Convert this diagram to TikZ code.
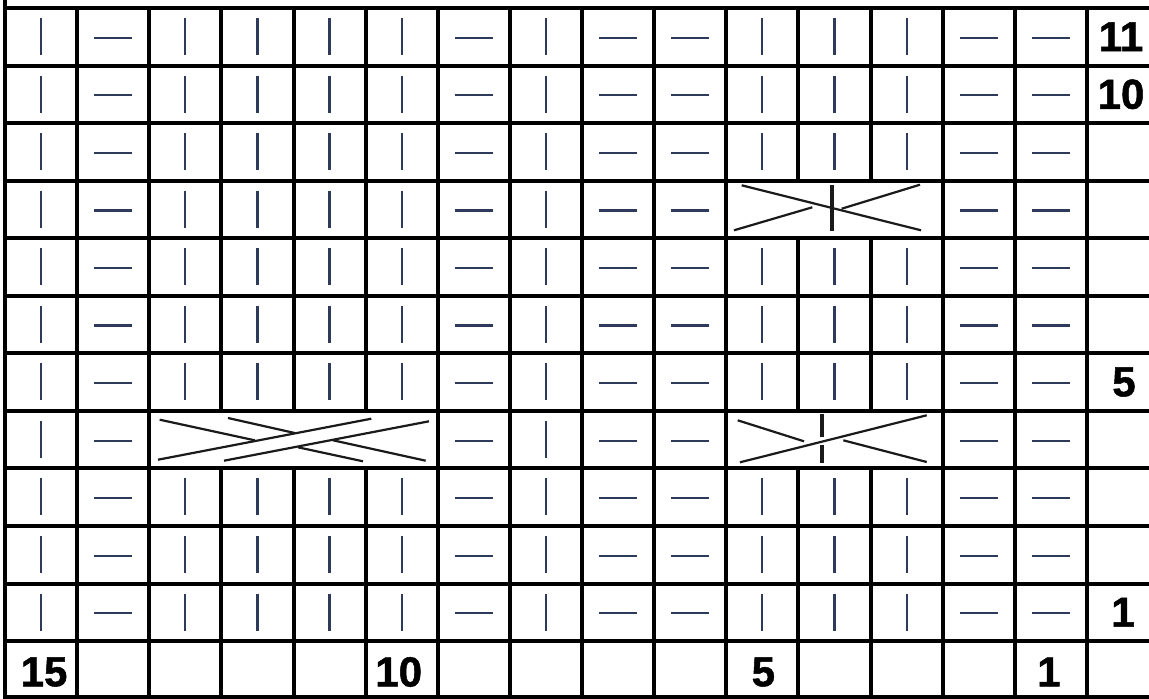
\documentclass[tikz,border=0pt]{standalone}
\usepackage{fontspec}
\setmainfont{Liberation Sans}
\newfontfamily\lblfont{Liberation Sans Bold}[FakeBold=1.2]
\definecolor{stitchc}{HTML}{2E3A59}
\definecolor{cablec}{HTML}{1A1A1A}
\newcommand\KnitSt[2]{\draw[knit] ({5+(#1-0.5)*\cw},{8+(#2-1)*\rh+10}) -- ++(0,37);}
\newcommand\PurlSt[2]{\draw[knit] ({5+(#1-0.5)*\cw-19},{8+(#2-0.5)*\rh+1}) -- ++(38,0);}
\begin{document}
\begin{tikzpicture}[x=1pt,y=-1pt,
  gridline/.style={line width=4pt,black,line cap=rect},
  knit/.style={line width=2.2pt,stitchc},
  cab/.style={line width=2.2pt,cablec},
  cabbar/.style={line width=4pt,cablec},
  lbl/.style={font=\fontsize{42}{42}\lblfont,inner sep=0pt,anchor=center}]
\useasboundingbox (0,0) rectangle (1149,699);
\fill[white] (0,0) rectangle (1149,699);
\pgfmathsetmacro\cw{72.13}
\pgfmathsetmacro\rh{57.55}
% grid
\foreach \j in {0,...,11} \draw[gridline] (5,{8+\j*\rh}) -- (1149,{8+\j*\rh});
\draw[gridline] (5,697) -- (1149,697);
\draw[gridline] (5,0) -- (5,697);
\foreach \i in {1,...,15} \draw[gridline] ({5+\i*\cw},8) -- ({5+\i*\cw},697);
% plain stitches
\foreach \r in {1,2,3,5,6,7,9,10,11}{
  \foreach \c in {1,3,4,5,6,8,11,12,13} {\KnitSt{\c}{\r}}
  \foreach \c in {2,7,9,10,14,15} {\PurlSt{\c}{\r}}
}
\foreach \c in {1,3,4,5,6,8} {\KnitSt{\c}{4}}
\foreach \c in {2,7,9,10,14,15} {\PurlSt{\c}{4}}
\foreach \c in {1,8} {\KnitSt{\c}{8}}
\foreach \c in {2,7,9,10,14,15} {\PurlSt{\c}{8}}
% cable boxes
\fill[white] ({5+10*\cw+2},{8+3*\rh+2}) rectangle ({5+13*\cw-2},{8+4*\rh-2});
\fill[white] ({5+10*\cw+2},{8+7*\rh+2}) rectangle ({5+13*\cw-2},{8+8*\rh-2});
\fill[white] ({5+2*\cw+2},{8+7*\rh+2}) rectangle ({5+6*\cw-2},{8+8*\rh-2});
% cable row 4
\draw[cab] (741.7,185.3) -- (921,230.3);
\draw[cab] (734,230.3) -- (812.3,207.3);
\draw[cab] (841.7,208.7) -- (920,184.7);
\draw[cabbar] (832.3,185.3) -- (832.3,231.3);
% cable row 8 right
\draw[cab] (737.7,420.3) -- (804,441.3);
\draw[cab] (843.3,440.3) -- (926.7,462);
\draw[cab] (740,462.3) -- (926.7,415.3);
\draw[cabbar] (821.7,414) -- (821.7,437.3);
\draw[cabbar] (821.7,445.3) -- (821.7,463);
% cable row 8 left
\draw[cab] (158,459.7) -- (371.3,418.7);
\draw[cab] (224,460.7) -- (429,421.3);
\draw[cab] (159.7,419.7) -- (254.7,440.3);
\draw[cab] (298,447.3) -- (363,461.3);
\draw[cab] (228,418) -- (294.7,433);
\draw[cab] (333,440.3) -- (425.7,460.7);
% labels
\node[lbl] (r11) at (1121,{8+0.5*\rh}) {11};
\node[lbl] (r10) at (1121,{8+1.5*\rh}) {10};
\node[lbl] (r5) at (1124,{8+6.5*\rh}) {5};
\node[lbl] (r1) at (1123,{8+10.5*\rh}) {1};
\node[lbl] (c15) at ({5+0.5*\cw+3},672) {15};
\node[lbl] (c10) at ({5+5.5*\cw-3},672) {10};
\node[lbl] (c5) at ({5+10.5*\cw+1},672) {5};
\node[lbl] (c1) at ({5+14.5*\cw-2},672) {1};
\end{tikzpicture}
\end{document}
